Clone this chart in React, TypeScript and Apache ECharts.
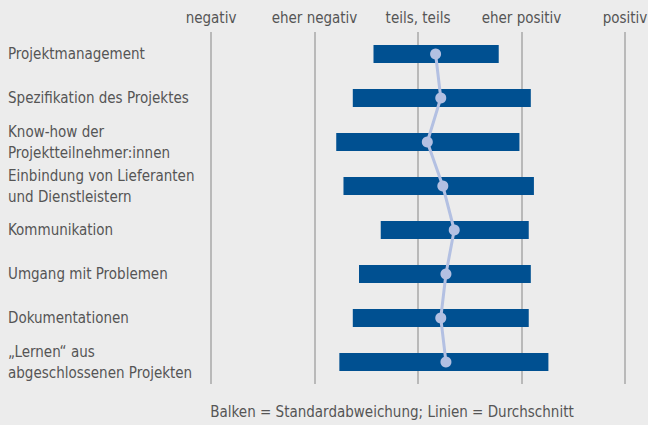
import React, { useEffect, useRef } from "react";
import * as echarts from "echarts";

const categories = [
  "Projektmanagement",
  "Spezifikation des Projektes",
  "Know-how der\nProjektteilnehmer:innen",
  "Einbindung von Lieferanten\nund Dienstleistern",
  "Kommunikation",
  "Umgang mit Problemen",
  "Dokumentationen",
  "„Lernen“ aus\nabgeschlossenen Projekten",
];
const meanValues = [3.17, 3.22, 3.09, 3.24, 3.35, 3.27, 3.22, 3.27];
const lowValues = [2.57, 2.37, 2.21, 2.28, 2.64, 2.43, 2.37, 2.24];
const highValues = [3.78, 4.09, 3.98, 4.12, 4.07, 4.09, 4.07, 4.26];
const tickLabels = ["negativ", "eher negativ", "teils, teils", "eher positiv", "positiv"];
const noteText = "Balken = Standardabweichung; Linien = Durchschnitt";

const FONT = "'DejaVu Sans Condensed', 'Liberation Sans Narrow', sans-serif";
const TEXT = "#555555";

export default function App() {
  const ref = useRef<HTMLDivElement>(null);
  useEffect(() => {
    if (!ref.current) return;
    const chart = echarts.init(ref.current, undefined, { renderer: "svg" });
    chart.setOption({
      animation: false,
      backgroundColor: "#ececec",
      textStyle: { fontFamily: FONT },
      grid: {
        left: 211,
        right: 23,
        top: 32,
        height: 352,
        containLabel: false,
        outerBoundsMode: "none",
      },
      xAxis: {
        type: "value",
        position: "top",
        min: 1,
        max: 5,
        interval: 1,
        axisLine: { show: false },
        axisTick: { show: false },
        axisLabel: {
          margin: 7,
          fontSize: 15,
          fontFamily: FONT,
          color: TEXT,
          formatter: (v: number) => tickLabels[Math.round(v) - 1] ?? "",
        },
        splitLine: { show: true, lineStyle: { color: "#a8a8a8", width: 1.5 } },
      },
      yAxis: {
        type: "category",
        data: categories,
        inverse: true,
        axisLine: { show: false },
        axisTick: { show: false },
        splitLine: { show: false },
        axisLabel: {
          align: "left",
          margin: 203,
          fontSize: 15,
          lineHeight: 21,
          fontFamily: FONT,
          color: TEXT,
        },
      },
      series: [
        {
          type: "bar",
          stack: "sd",
          silent: true,
          barWidth: 18,
          itemStyle: { color: "rgba(0,0,0,0)" },
          data: lowValues,
        },
        {
          type: "bar",
          stack: "sd",
          barWidth: 18,
          itemStyle: { color: "#005091" },
          data: highValues.map((h, i) => +(h - lowValues[i]).toFixed(2)),
        },
        {
          type: "line",
          data: meanValues.map((m, i) => [m, i]),
          symbol: "circle",
          symbolSize: 11,
          lineStyle: { color: "#b3c0e2", width: 3 },
          itemStyle: { color: "#b3c0e2" },
          z: 5,
        },
      ],
      graphic: [
        {
          type: "text",
          x: 392,
          y: 412,
          style: {
            text: noteText,
            fontSize: 15,
            fontFamily: FONT,
            fill: TEXT,
            textAlign: "center",
            textVerticalAlign: "middle",
          },
        },
      ],
    });
    return () => chart.dispose();
  }, []);
  return (
    <div
      ref={ref}
      style={{ position: "fixed", left: 0, top: 0, width: 648, height: 425 }}
    />
  );
}
